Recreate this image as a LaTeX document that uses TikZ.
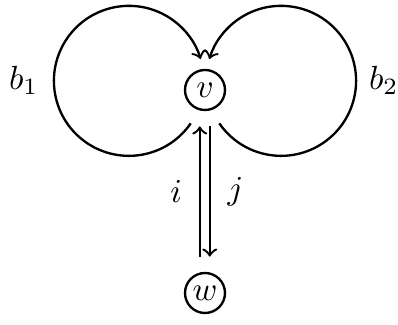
\documentclass[tikz,border=0pt]{standalone}
\usepackage{tikz}
\usetikzlibrary{arrows,positioning}

\begin{document}
\begin{tikzpicture}[
  vert/.style={circle, draw=black, line width=0.7pt, inner sep=1pt,
               minimum size=0.42cm},
  arr/.style={->, line width=0.7pt},
  lbl/.style={inner sep=1pt}
]
\useasboundingbox (0,0) rectangle (4.179,-3.4125);
\node[vert] (v) at (2.1525,-0.945) {$v$};
\node[vert] (w) at (2.1525,-3.0765) {$w$};
\node[lbl] (b1) at (0.25,-0.84) {$b_1$};
\node[lbl] (b2) at (4.03,-0.84) {$b_2$};
% loops at v
\draw[arr] ([shift={(-0.15,-0.35)}]v.center)
  arc[start angle=-34.5, end angle=-343, radius=0.7875];
\draw[arr] ([shift={(0.15,-0.35)}]v.center)
  arc[start angle=214.5, end angle=523, radius=0.7875];
% edges between v and w
\draw[arr, shorten <=0.16cm, shorten >=0.16cm]
  ([xshift=-0.055cm]w.north) -- node[lbl, left=4pt] {$i$} ([xshift=-0.055cm]v.south);
\draw[arr, shorten <=0.16cm, shorten >=0.16cm]
  ([xshift=0.05cm]v.south) -- node[lbl, right=4pt] {$j$} ([xshift=0.05cm]w.north);
\end{tikzpicture}
\end{document}
